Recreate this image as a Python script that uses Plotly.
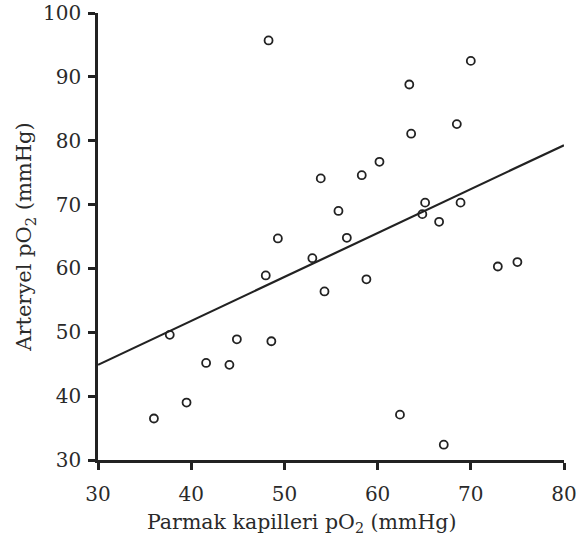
import plotly.graph_objects as go

# Parmak kapilleri pO2 vs arteryel pO2 (mmHg)
kapiller_po2 = [36.0, 37.7, 39.5, 41.6, 44.1, 44.9, 48.0, 48.6, 48.3, 49.3,
                53.9, 55.8, 56.7, 53.0, 58.3, 60.2, 63.4, 63.6, 70.0, 68.5,
                65.1, 64.8, 66.6, 68.9, 54.3, 58.8, 72.9, 75.0, 62.4, 67.1]
arteryel_po2 = [36.5, 49.6, 39.0, 45.2, 44.9, 48.9, 58.9, 48.6, 95.7, 64.7,
                74.1, 69.0, 64.8, 61.6, 74.6, 76.7, 88.8, 81.1, 92.5, 82.6,
                70.3, 68.5, 67.3, 70.3, 56.4, 58.3, 60.3, 61.0, 37.1, 32.4]

# regression line end points
fit_x = [30, 80]
fit_y = [44.9, 79.3]

font_name = "DejaVu Serif"
ink = "#222"

fig = go.Figure()
fig.add_trace(go.Scatter(
    x=fit_x, y=fit_y, mode="lines",
    line=dict(color=ink, width=2.2),
    showlegend=False, hoverinfo="skip",
))
fig.add_trace(go.Scatter(
    x=kapiller_po2, y=arteryel_po2, mode="markers",
    marker=dict(symbol="circle-open", size=8, color=ink, line=dict(width=1.8)),
    showlegend=False,
))

fig.update_layout(
    width=587, height=547,
    margin=dict(l=98, r=23, t=13, b=87),
    plot_bgcolor="white", paper_bgcolor="white",
    font=dict(family=font_name, size=20, color="#2a2a2a"),
)
axis_style = dict(
    showline=True, linecolor=ink, linewidth=2.5,
    ticks="outside", ticklen=7, tickwidth=2.5, tickcolor=ink,
    showgrid=False, zeroline=False, ticklabeloverflow="allow",
    automargin=False,
)
fig.update_xaxes(
    range=[30, 80], tickvals=[30, 40, 50, 60, 70, 80],
    ticklabelstandoff=7,
    **axis_style,
)
fig.update_yaxes(
    range=[30, 100], tickvals=[30, 40, 50, 60, 70, 80, 90, 100],
    ticklabelstandoff=3,
    title=dict(text="Arteryel pO<sub>2</sub> (mmHg)", standoff=6,
               font=dict(size=21)),
    **axis_style,
)

# x title sits a little left of the plot centre in the original
fig.add_annotation(
    text="Parmak kapilleri pO<sub>2</sub> (mmHg)",
    xref="paper", yref="paper", x=0.436, y=0, yshift=-63,
    xanchor="center", yanchor="middle", showarrow=False,
    font=dict(size=20.5),
)

# page body has a default margin; drop it so the figure sits at the top-left
fig.write_html("out.html", config={"displayModeBar": False},
               post_script="document.body.style.margin='0';")
